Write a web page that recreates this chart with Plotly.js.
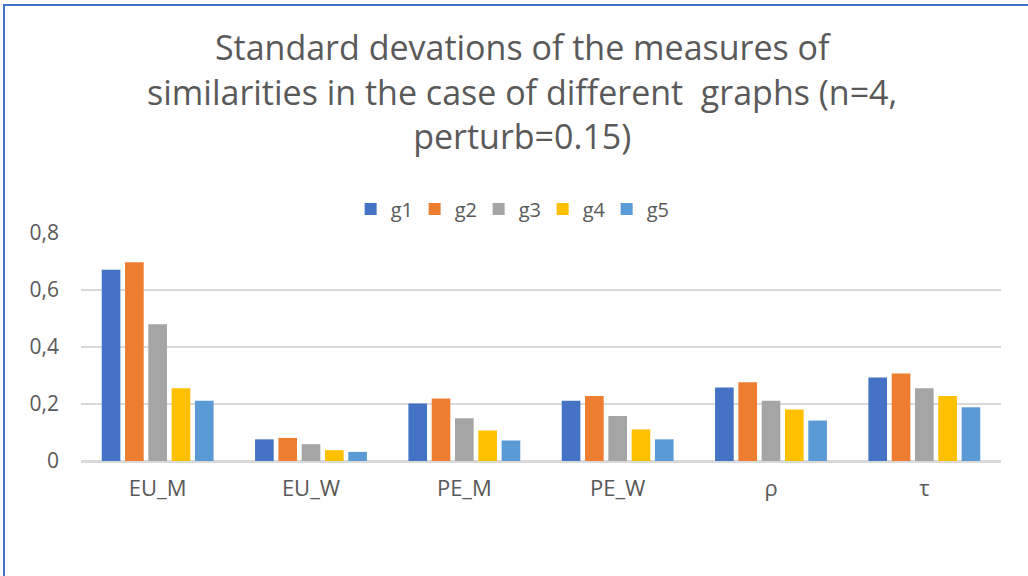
<!DOCTYPE html>
<html>
<head>
<meta charset="utf-8">
<script src="https://cdn.plot.ly/plotly-3.0.1.min.js"></script>
<style>
html,body{margin:0;padding:0;background:#fff;}
#wrap{position:relative;width:1028px;height:576px;overflow:hidden;}
#chart{position:absolute;left:0;top:0;width:1028px;height:576px;}
#frame{position:absolute;left:3px;top:4px;width:1040px;height:600px;border-top:2px solid #4472C4;border-left:2px solid #4472C4;pointer-events:none;}
</style>
</head>
<body>
<div id="wrap"><div id="chart"></div><div id="frame"></div></div>
<script>
const categories = ["EU_M", "EU_W", "PE_M", "PE_W", "ρ", "τ"];
const seriesNames = ["g1", "g2", "g3", "g4", "g5"];
const g1 = [0.671, 0.076, 0.202, 0.211, 0.258, 0.293];
const g2 = [0.697, 0.081, 0.219, 0.228, 0.276, 0.307];
const g3 = [0.480, 0.059, 0.150, 0.158, 0.211, 0.255];
const g4 = [0.255, 0.038, 0.107, 0.111, 0.181, 0.228];
const g5 = [0.211, 0.032, 0.072, 0.076, 0.142, 0.189];
const colors = ["#4472C4", "#ED7D31", "#A5A5A5", "#FFC000", "#5B9BD5"];
const seriesValues = [g1, g2, g3, g4, g5];

const traces = seriesValues.map((vals, i) => ({
  type: "bar",
  name: seriesNames[i],
  x: categories,
  y: vals,
  marker: {color: colors[i]},
  hoverinfo: "x+y+name"
}));

const fontFam = "'Open Sans', Lato, sans-serif";
const layout = {
  width: 1028, height: 576,
  paper_bgcolor: "#ffffff", plot_bgcolor: "#ffffff",
  margin: {l: 81, r: 27, t: 233, b: 115},
  font: {family: fontFam, color: "#595959", size: 20},
  separators: ",.",
  title: {
    text: "Standard devations of the measures of<br>similarities in the case of different  graphs (n=4,<br>perturb=0.15)",
    font: {family: fontFam, size: 34, color: "#595959"},
    x: 0.508, xanchor: "center",
    y: 0.895, yref: "container", yanchor: "middle"
  },
  barmode: "group",
  bargap: 0.24,
  bargroupgap: 0.2,
  showlegend: true,
  legend: {
    orientation: "h",
    x: 0.467, xanchor: "center",
    y: 1.105, yanchor: "middle",
    font: {size: 20, color: "#595959"},
    entrywidth: 19,
    traceorder: "normal"
  },
  xaxis: {
    type: "category",
    showgrid: false,
    showline: true, linecolor: "#D9D9D9", linewidth: 2,
    ticks: "",
    ticklabelstandoff: 7,
    tickfont: {size: 22, color: "#595959"},
    fixedrange: true
  },
  yaxis: {
    range: [0, 0.8],
    dtick: 0.2,
    tick0: 0,
    showgrid: true, gridcolor: "#D9D9D9", gridwidth: 2,
    zeroline: true, zerolinecolor: "#D9D9D9", zerolinewidth: 2,
    showline: false,
    ticks: "",
    ticklabelstandoff: 21,
    tickfont: {size: 21, color: "#595959"},
    fixedrange: true
  }
};

Plotly.newPlot("chart", traces, layout, {displayModeBar: false, staticPlot: true});
</script>
</body>
</html>
